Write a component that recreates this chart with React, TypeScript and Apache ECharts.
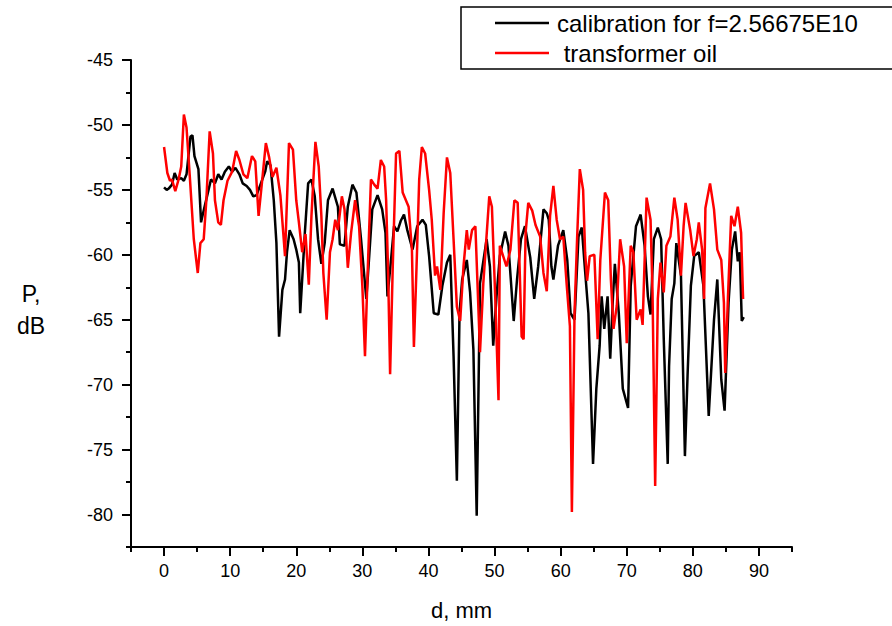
import React, { useEffect, useRef } from "react";
import * as echarts from "echarts";

const FONT = "'Liberation Sans', Arial, sans-serif";

const blackX = [0.0, 0.4, 0.7, 1.2, 1.6, 2.0, 2.6, 3.0, 3.4, 4.0, 4.3, 4.6, 5.2, 5.6, 5.9, 6.5, 7.1, 7.7, 8.2, 8.7, 9.2, 9.8, 10.3, 10.8, 11.4, 11.9, 12.5, 13.0, 13.5, 14.0, 15.3, 15.6, 16.1, 16.6, 17.0, 17.4, 17.9, 18.3, 18.6, 19.0, 19.6, 20.0, 20.4, 20.6, 21.0, 21.3, 21.8, 22.3, 22.8, 23.3, 23.8, 24.3, 24.8, 25.5, 26.3, 26.6, 27.3, 27.8, 28.5, 29.1, 29.8, 30.6, 31.0, 31.5, 32.3, 33.0, 33.5, 33.8, 34.3, 34.8, 35.3, 35.8, 36.3, 36.8, 37.6, 38.3, 39.1, 39.6, 40.1, 40.8, 41.5, 42.1, 42.8, 43.3, 43.8, 44.3, 44.7, 45.1, 45.8, 46.3, 46.8, 47.3, 47.8, 48.8, 49.3, 49.8, 50.3, 50.8, 51.6, 52.1, 52.9, 53.4, 54.0, 54.6, 55.4, 56.0, 56.6, 57.4, 57.9, 58.2, 58.6, 58.9, 59.6, 60.4, 61.0, 61.5, 62.1, 62.7, 63.2, 63.6, 64.2, 64.9, 65.4, 65.9, 66.2, 66.6, 67.1, 67.5, 67.9, 68.2, 68.8, 69.4, 70.2, 70.6, 71.4, 72.1, 72.7, 73.2, 73.6, 74.1, 74.7, 75.2, 75.6, 76.2, 76.4, 76.8, 77.2, 77.5, 78.2, 78.8, 79.2, 79.7, 80.2, 80.9, 81.6, 82.4, 83.2, 83.7, 84.3, 84.8, 85.4, 85.9, 86.4, 86.8, 87.1, 87.4, 87.7];
const blackY = [-54.8, -55.0, -54.9, -54.6, -53.7, -54.2, -54.1, -54.3, -53.8, -50.9, -50.8, -52.4, -53.4, -57.5, -56.8, -55.5, -54.2, -54.5, -53.8, -54.2, -53.6, -53.2, -53.6, -53.3, -53.8, -54.5, -54.7, -55.0, -55.5, -55.4, -53.6, -52.8, -53.1, -55.8, -59.1, -66.3, -62.7, -61.9, -59.8, -58.1, -58.8, -59.6, -60.6, -64.5, -61.0, -58.3, -54.5, -54.2, -55.5, -58.8, -60.7, -59.1, -55.8, -54.9, -56.3, -59.2, -59.3, -56.3, -54.6, -55.2, -58.8, -63.4, -60.4, -56.5, -55.4, -56.5, -58.3, -63.2, -60.6, -57.8, -58.2, -57.4, -56.9, -58.1, -59.6, -57.8, -57.3, -57.7, -60.1, -64.5, -64.6, -62.4, -60.6, -60.0, -67.8, -77.4, -64.5, -61.9, -60.4, -62.9, -67.3, -80.1, -62.2, -58.8, -60.9, -67.0, -63.2, -60.1, -58.2, -59.3, -65.1, -61.9, -58.8, -57.8, -60.2, -63.4, -60.9, -56.5, -56.8, -57.3, -60.9, -61.9, -59.3, -58.1, -60.4, -64.5, -65.0, -58.6, -57.9, -60.6, -64.5, -76.1, -70.3, -67.0, -63.2, -65.7, -63.2, -68.0, -63.4, -60.7, -64.5, -70.3, -71.8, -62.4, -57.8, -56.9, -59.3, -63.2, -64.6, -58.8, -57.9, -58.8, -66.5, -76.1, -68.6, -63.4, -62.2, -59.1, -61.6, -75.5, -69.3, -62.4, -60.1, -59.8, -62.4, -72.4, -65.0, -61.9, -69.6, -72.0, -63.7, -59.6, -58.2, -60.5, -59.8, -65.1, -64.8];

const redX = [0.0, 0.5, 0.9, 1.2, 1.7, 2.2, 2.6, 3.0, 3.4, 3.9, 4.5, 5.1, 5.5, 6.0, 6.4, 6.9, 7.4, 7.7, 8.2, 8.6, 9.0, 9.6, 10.3, 10.9, 11.4, 12.0, 12.6, 13.3, 13.8, 14.3, 14.8, 15.4, 15.9, 16.4, 17.0, 17.6, 18.3, 18.9, 19.5, 20.0, 20.4, 20.9, 21.4, 21.9, 22.3, 22.9, 23.4, 23.8, 24.1, 24.6, 25.1, 25.5, 25.9, 26.3, 26.9, 27.3, 27.8, 28.3, 28.9, 29.5, 30.0, 30.4, 30.8, 31.3, 31.8, 32.3, 32.8, 33.3, 33.6, 33.9, 34.2, 34.6, 35.1, 35.6, 36.1, 37.0, 37.5, 37.8, 38.2, 38.6, 39.0, 39.5, 40.1, 40.5, 41.0, 41.3, 41.8, 42.3, 42.8, 43.3, 43.8, 44.3, 44.8, 45.3, 45.8, 46.1, 46.6, 47.1, 47.8, 48.3, 49.2, 49.6, 50.1, 50.6, 50.8, 51.8, 52.4, 53.0, 53.5, 54.1, 54.4, 54.7, 55.1, 55.7, 56.2, 56.9, 57.4, 57.9, 58.4, 58.9, 59.4, 59.9, 60.4, 60.9, 61.4, 61.7, 62.1, 62.5, 62.9, 63.4, 63.7, 64.0, 64.4, 65.1, 65.6, 66.0, 66.7, 67.2, 67.6, 68.0, 68.5, 69.0, 69.6, 70.0, 70.6, 71.0, 71.5, 72.1, 72.4, 73.0, 73.6, 73.9, 74.3, 74.7, 75.1, 75.6, 76.0, 76.6, 77.2, 77.7, 78.2, 78.6, 78.9, 79.6, 80.1, 80.6, 80.9, 81.4, 81.7, 81.9, 82.6, 83.2, 83.7, 84.3, 84.7, 84.9, 85.3, 85.8, 86.3, 86.8, 87.3, 87.6];
const redY = [-51.7, -53.7, -54.3, -54.2, -55.1, -54.2, -53.2, -49.2, -50.2, -54.0, -58.8, -61.4, -59.1, -58.8, -55.8, -50.5, -52.2, -55.8, -57.5, -57.7, -55.8, -54.3, -53.6, -52.0, -52.7, -53.8, -54.1, -52.4, -52.8, -57.0, -54.5, -51.4, -52.5, -54.0, -53.3, -55.4, -60.1, -51.4, -51.9, -55.8, -57.5, -59.8, -58.4, -62.3, -57.0, -51.3, -53.2, -57.0, -61.4, -65.0, -59.8, -58.8, -57.3, -58.1, -55.5, -56.5, -61.0, -58.3, -55.8, -57.8, -62.4, -67.8, -61.4, -54.2, -54.6, -54.9, -52.7, -53.2, -55.8, -61.4, -69.2, -60.9, -52.2, -52.0, -55.2, -56.3, -59.6, -67.1, -60.9, -54.2, -51.7, -52.2, -55.0, -57.3, -61.6, -60.9, -62.7, -56.8, -52.5, -53.7, -58.8, -64.0, -65.1, -60.9, -58.1, -59.6, -58.1, -57.8, -67.5, -62.2, -55.5, -56.3, -63.2, -71.2, -59.3, -60.9, -59.6, -55.8, -56.0, -66.3, -66.5, -58.3, -56.0, -56.6, -57.7, -58.6, -61.4, -62.8, -57.0, -54.7, -57.3, -58.8, -58.6, -62.2, -65.5, -79.8, -64.5, -58.6, -53.4, -55.0, -59.8, -62.0, -60.1, -60.0, -66.5, -60.4, -55.2, -55.8, -61.9, -65.7, -63.9, -58.8, -60.9, -66.8, -59.3, -59.8, -65.0, -64.2, -65.4, -55.6, -57.3, -62.9, -77.8, -63.4, -60.6, -62.9, -59.3, -58.6, -55.6, -57.3, -61.6, -57.8, -56.0, -58.1, -60.1, -58.8, -57.5, -59.6, -63.4, -56.4, -54.5, -56.5, -59.6, -60.4, -63.7, -69.1, -63.4, -57.0, -57.8, -56.3, -58.3, -63.4];

const seriesNames = ["calibration for f=2.56675E10", " transformer oil"];
const xLabelValues = [0, 10, 20, 30, 40, 50, 60, 70, 80, 90];
const xMinorTickValues = [-5, 5, 15, 25, 35, 45, 55, 65, 75, 85, 95];
const yLabelValues = [-45, -50, -55, -60, -65, -70, -75, -80];
const yMinorTickValues = [-47.5, -52.5, -57.5, -62.5, -67.5, -72.5, -77.5, -82.5];
const xAxisTitle = "d, mm";
const yAxisTitle = "P,\ndB";

const zip = (xs: number[], ys: number[]) => xs.map((x, i) => [x, ys[i]]);

export default function App() {
  const ref = useRef<HTMLDivElement>(null);
  useEffect(() => {
    if (!ref.current) return;
    const chart = echarts.init(ref.current, null, { renderer: "svg" });
    const axisLineStyle = { color: "#000", width: 2 };
    const labelStyle = { color: "#000", fontSize: 18, fontFamily: FONT };
    chart.setOption({
      animation: false,
      backgroundColor: "#fff",
      grid: { left: 131, right: 100, top: 60, bottom: 78, containLabel: false },
      legend: {
        orient: "vertical",
        left: 461,
        top: 7,
        padding: [4, 40, 4, 34],
        icon: "rect",
        itemWidth: 54,
        itemHeight: 2.5,
        itemGap: 6,
        borderColor: "#000",
        borderWidth: 1.5,
        backgroundColor: "#fff",
        data: seriesNames,
        textStyle: {
          color: "#000",
          fontSize: 24,
          lineHeight: 24,
          fontFamily: FONT,
          padding: [0, 0, 0, 3],
        },
      },
      xAxis: [
        {
          type: "value",
          min: -5,
          max: 95,
          position: "bottom",
          axisLine: { show: true, onZero: false, lineStyle: axisLineStyle },
          axisTick: { show: true, customValues: xLabelValues, length: 9, lineStyle: { color: "#000", width: 2 } },
          axisLabel: { show: true, customValues: xLabelValues, margin: 15, ...labelStyle },
          splitLine: { show: false },
          name: xAxisTitle,
          nameLocation: "middle",
          nameGap: 52,
          nameTextStyle: { color: "#000", fontSize: 22, fontFamily: FONT },
        },
        {
          type: "value",
          min: -5,
          max: 95,
          position: "bottom",
          axisLine: { show: false, onZero: false },
          axisTick: { show: true, customValues: xMinorTickValues, length: 5, lineStyle: { color: "#000", width: 2 } },
          axisLabel: { show: false },
          splitLine: { show: false },
        },
      ],
      yAxis: [
        {
          type: "value",
          min: -82.5,
          max: -45,
          position: "left",
          axisLine: { show: true, onZero: false, lineStyle: axisLineStyle },
          axisTick: { show: true, customValues: yLabelValues, length: 9, lineStyle: { color: "#000", width: 2 } },
          axisLabel: { show: true, customValues: yLabelValues, margin: 18, ...labelStyle },
          splitLine: { show: false },
        },
        {
          type: "value",
          min: -82.5,
          max: -45,
          position: "left",
          axisLine: { show: false, onZero: false },
          axisTick: { show: true, customValues: yMinorTickValues, length: 5, lineStyle: { color: "#000", width: 2 } },
          axisLabel: { show: false },
          splitLine: { show: false },
        },
      ],
      graphic: [
        {
          type: "text",
          left: 17,
          top: 278,
          style: {
            text: yAxisTitle,
            fill: "#000",
            fontSize: 23,
            lineHeight: 32,
            fontFamily: FONT,
            textAlign: "center",
            width: 26,
          },
        },
      ],
      series: [
        {
          name: seriesNames[0],
          type: "line",
          xAxisIndex: 0,
          yAxisIndex: 0,
          symbol: "none",
          data: zip(blackX, blackY),
          lineStyle: { color: "#000", width: 2.5 },
          itemStyle: { color: "#000" },
          z: 2,
        },
        {
          name: seriesNames[1],
          type: "line",
          xAxisIndex: 0,
          yAxisIndex: 0,
          symbol: "none",
          data: zip(redX, redY),
          lineStyle: { color: "#ff0000", width: 2.5 },
          itemStyle: { color: "#ff0000" },
          z: 3,
        },
      ],
    });
    return () => chart.dispose();
  }, []);
  return (
    <div
      ref={ref}
      style={{ position: "absolute", left: 0, top: 0, width: 892, height: 626, background: "#fff" }}
    />
  );
}
